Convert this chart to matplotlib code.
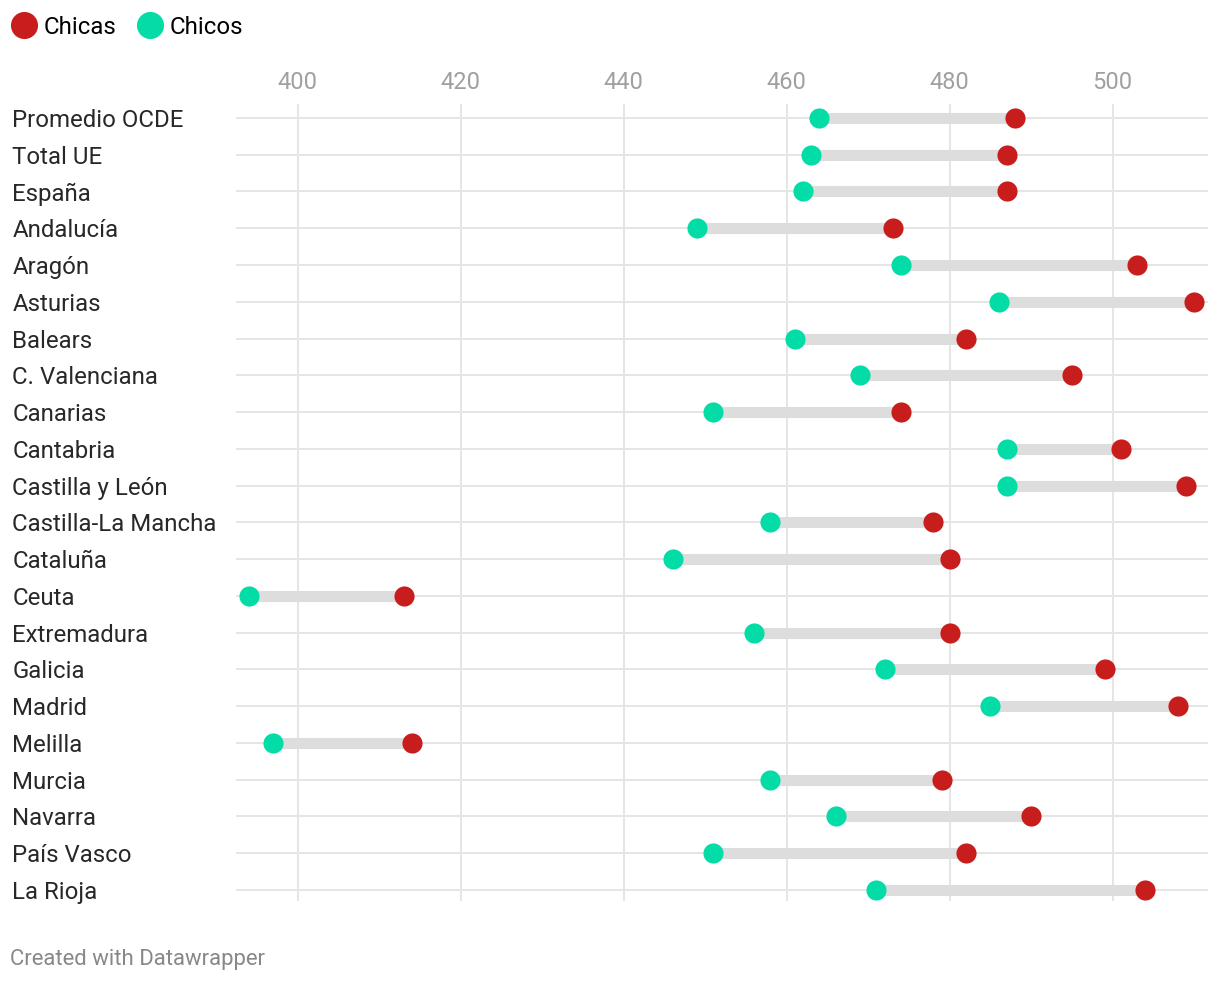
import numpy as np
import matplotlib.pyplot as plt
from matplotlib.lines import Line2D

plt.rcParams['font.family'] = ['Roboto', 'DejaVu Sans']

regions = ['Promedio OCDE', 'Total UE', 'España', 'Andalucía', 'Aragón', 'Asturias',
           'Balears', 'C. Valenciana', 'Canarias', 'Cantabria', 'Castilla y León',
           'Castilla-La Mancha', 'Cataluña', 'Ceuta', 'Extremadura', 'Galicia',
           'Madrid', 'Melilla', 'Murcia', 'Navarra', 'País Vasco', 'La Rioja']
chicas = [488, 487, 487, 473, 503, 510, 482, 495, 474, 501, 509,
          478, 480, 413, 480, 499, 508, 414, 479, 490, 482, 504]
chicos = [464, 463, 462, 449, 474, 486, 461, 469, 451, 487, 487,
          458, 446, 394, 456, 472, 485, 397, 458, 466, 451, 471]
xticks = [400, 420, 440, 460, 480, 500]

RED = '#c71e1d'
GREEN = '#03dca6'

px = 1/100
fig = plt.figure(figsize=(1220*px, 982*px), dpi=100)
ax = fig.add_axes([236/1220, 1-901/982, 972/1220, 797/982])

y = np.arange(len(regions))
for yi, a, b in zip(y, chicos, chicas):
    ax.plot([a, b], [yi, yi], color='#dddddd', lw=8, solid_capstyle='butt', zorder=2)
ax.plot(chicos, y, 'o', color=GREEN, ms=14.5, mec='none', zorder=3)
ax.plot(chicas, y, 'o', color=RED, ms=14.5, mec='none', zorder=3)

ax.set_xlim(392.4, 511.7)
ax.set_ylim(len(regions) - 1 + 0.3, -0.38)
ax.set_xticks(xticks)
ax.xaxis.tick_top()
ax.tick_params(axis='x', length=0, pad=7, labelsize=17, labelcolor='#a0a0a0')
ax.set_yticks(y)
ax.set_yticklabels(regions, ha='left')
ax.tick_params(axis='y', length=0, pad=161, labelsize=17.3, labelcolor='#282828')
ax.grid(True, color='#e5e5e5', lw=1.4, zorder=0)
ax.set_axisbelow(True)
for s in ax.spines.values():
    s.set_visible(False)

handles = [Line2D([], [], marker='o', ls='', color=RED, ms=19.5, mec='none'),
           Line2D([], [], marker='o', ls='', color=GREEN, ms=19.5, mec='none')]
fig.legend(handles, ['Chicas', 'Chicos'], loc='center left',
           bbox_to_anchor=(12/1220, 1-27/982), ncol=2, frameon=False, fontsize=17.3,
           handlelength=1.0, handletextpad=0.33, columnspacing=0.87,
           borderaxespad=0, borderpad=0)

fig.text(10/1220, 1-959/982, 'Created with Datawrapper', fontsize=15.9, color='#888888',
         ha='left', va='center')

plt.savefig('out.png', dpi=100)
